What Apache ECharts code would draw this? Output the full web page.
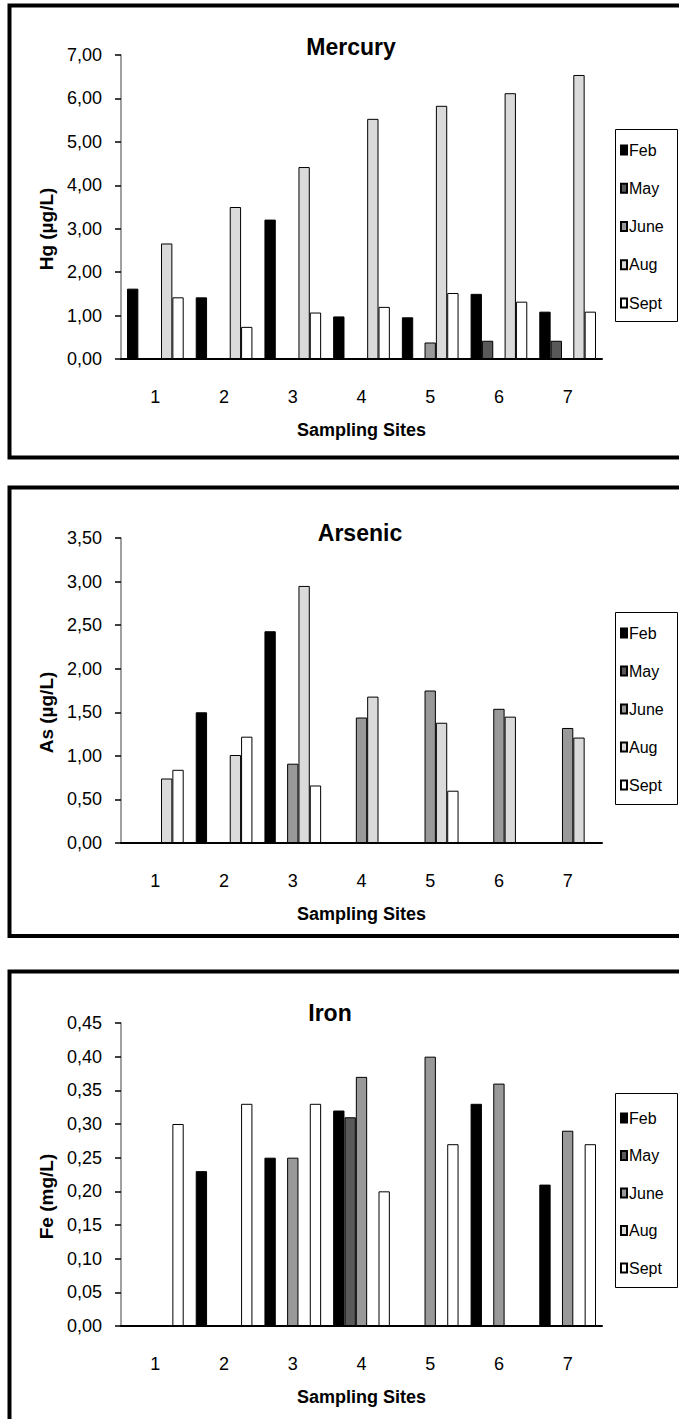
<!DOCTYPE html>
<html>
<head>
<meta charset="utf-8">
<script src="https://cdn.jsdelivr.net/npm/echarts@6/dist/echarts.min.js"></script>
<style>
  html, body { margin: 0; padding: 0; background: #ffffff; }
  #chart { width: 679px; height: 1419px; }
</style>
</head>
<body>
<div id="chart"></div>
<script>
// sampling sites and months
const sites = ['1', '2', '3', '4', '5', '6', '7']
const months = ['Feb', 'May', 'June', 'Aug', 'Sept']

// Mercury, Hg (µg/L)
const hgFeb = [1.62, 1.42, 3.21, 0.98, 0.96, 1.50, 1.09]
const hgMay = [null, null, null, null, null, 0.42, 0.42]
const hgJune = [null, null, null, null, 0.38, null, null]
const hgAug = [2.66, 3.50, 4.42, 5.53, 5.83, 6.12, 6.54]
const hgSept = [1.42, 0.74, 1.07, 1.20, 1.52, 1.32, 1.09]

// Arsenic, As (µg/L)
const asFeb = [null, 1.50, 2.43, null, null, null, null]
const asMay = [null, null, null, null, null, null, null]
const asJune = [null, null, 0.91, 1.44, 1.75, 1.54, 1.32]
const asAug = [0.74, 1.01, 2.95, 1.68, 1.38, 1.45, 1.21]
const asSept = [0.84, 1.22, 0.66, null, 0.60, null, null]

// Iron, Fe (mg/L)
const feFeb = [null, 0.23, 0.25, 0.32, null, 0.33, 0.21]
const feMay = [null, null, null, 0.31, null, null, null]
const feJune = [null, null, 0.25, 0.37, 0.40, 0.36, 0.29]
const feAug = [null, null, null, null, null, null, null]
const feSept = [0.30, 0.33, 0.33, 0.20, 0.27, null, 0.27]

// y axis ranges
const hgAxis = { max: 7, interval: 1 }
const asAxis = { max: 3.5, interval: 0.5 }
const feAxis = { max: 0.45, interval: 0.05 }

const colors = ['#000000', '#595959', '#999999', '#dadada', '#ffffff']
const font = "'Liberation Sans', Arial, sans-serif"
const narrow = "'Liberation Sans Narrow', 'Arial Narrow', 'Liberation Sans', sans-serif"

// layout of the three panels
const panels = [
  { title: 'Mercury', yName: 'Hg (µg/L)', axis: hgAxis, data: [hgFeb, hgMay, hgJune, hgAug, hgSept],
    titleX: 351, titleY: 35, top: 55, height: 304, frameY: 5.5, frameH: 452, boxTop: 129, boxH: 192, legTop: 142, legGap: 22.25 },
  { title: 'Arsenic', yName: 'As (µg/L)', axis: asAxis, data: [asFeb, asMay, asJune, asAug, asSept],
    titleX: 360, titleY: 521, top: 538, height: 305, frameY: 487.5, frameH: 448.5, boxTop: 612, boxH: 192, legTop: 625, legGap: 22 },
  { title: 'Iron', yName: 'Fe (mg/L)', axis: feAxis, data: [feFeb, feMay, feJune, feAug, feSept],
    titleX: 330, titleY: 1001, top: 1023, height: 303, frameY: 971.5, frameH: 520, boxTop: 1093, boxH: 194, legTop: 1110, legGap: 21.5 }
]

const myChart = echarts.init(document.getElementById('chart'), null, { renderer: 'svg' })

const grid = []
const xAxis = []
const yAxis = []
const title = []
const legend = []
const series = []
const graphic = []

panels.forEach((p, i) => {
  grid.push({ left: 121, top: p.top, width: 481, height: p.height })

  title.push({
    text: p.title,
    left: p.titleX,
    top: p.titleY,
    textAlign: 'center',
    padding: 0,
    textStyle: { fontFamily: narrow, fontWeight: 'bold', fontSize: 23, color: '#000' }
  })

  xAxis.push({
    type: 'category',
    gridIndex: i,
    data: sites,
    boundaryGap: true,
    name: 'Sampling Sites',
    nameLocation: 'middle',
    nameGap: 62,
    nameTextStyle: { fontFamily: font, fontWeight: 'bold', fontSize: 18, color: '#000' },
    axisLine: { lineStyle: { color: '#000', width: 2 } },
    axisTick: { length: 6, lineStyle: { color: '#000', width: 1.5 } },
    axisLabel: { margin: 29, fontFamily: font, fontSize: 18, color: '#000' },
    splitLine: { show: false }
  })

  yAxis.push({
    type: 'value',
    gridIndex: i,
    min: 0,
    max: p.axis.max,
    interval: p.axis.interval,
    name: p.yName,
    nameLocation: 'middle',
    nameRotate: 90,
    nameGap: 63,
    nameTextStyle: { fontFamily: font, fontWeight: 'bold', fontSize: 19, color: '#000', padding: [0, 44, 0, 0] },
    axisLine: { show: true, lineStyle: { color: '#808080', width: 1.5 } },
    axisTick: { show: true, length: 6, lineStyle: { color: '#000', width: 1.5 } },
    axisLabel: {
      margin: 19,
      fontFamily: font,
      fontSize: 18,
      color: '#000',
      formatter: v => v.toFixed(2).replace('.', ',')
    },
    splitLine: { show: false }
  })

  legend.push({
    data: months,
    orient: 'vertical',
    left: 620,
    top: p.legTop,
    padding: 0,
    itemGap: p.legGap,
    itemWidth: 6,
    itemHeight: 9,
    icon: 'rect',
    selectedMode: false,
    textStyle: { fontFamily: narrow, fontSize: 16, lineHeight: 16, color: '#000', padding: [0, 0, 0, -3] }
  })

  months.forEach((m, k) => {
    series.push({
      type: 'bar',
      name: m,
      xAxisIndex: i,
      yAxisIndex: i,
      data: p.data[k],
      barGap: '0%',
      barCategoryGap: '17.5%',
      itemStyle: { color: colors[k], borderColor: '#000', borderWidth: 1 }
    })
  })

  // panel frame and legend box
  graphic.push({
    type: 'rect',
    shape: { x: 9.5, y: p.frameY, width: 720, height: p.frameH },
    style: { fill: 'none', stroke: '#000', lineWidth: 4 },
    silent: true
  })
  graphic.push({
    type: 'rect',
    shape: { x: 615.5, y: p.boxTop + 0.5, width: 62, height: p.boxH },
    style: { fill: 'none', stroke: '#000', lineWidth: 1 },
    silent: true
  })
})

const options = {
  animation: false,
  backgroundColor: '#ffffff',
  title: title,
  legend: legend,
  grid: grid,
  xAxis: xAxis,
  yAxis: yAxis,
  series: series,
  graphic: graphic
}
myChart.setOption(options)
</script>
</body>
</html>
